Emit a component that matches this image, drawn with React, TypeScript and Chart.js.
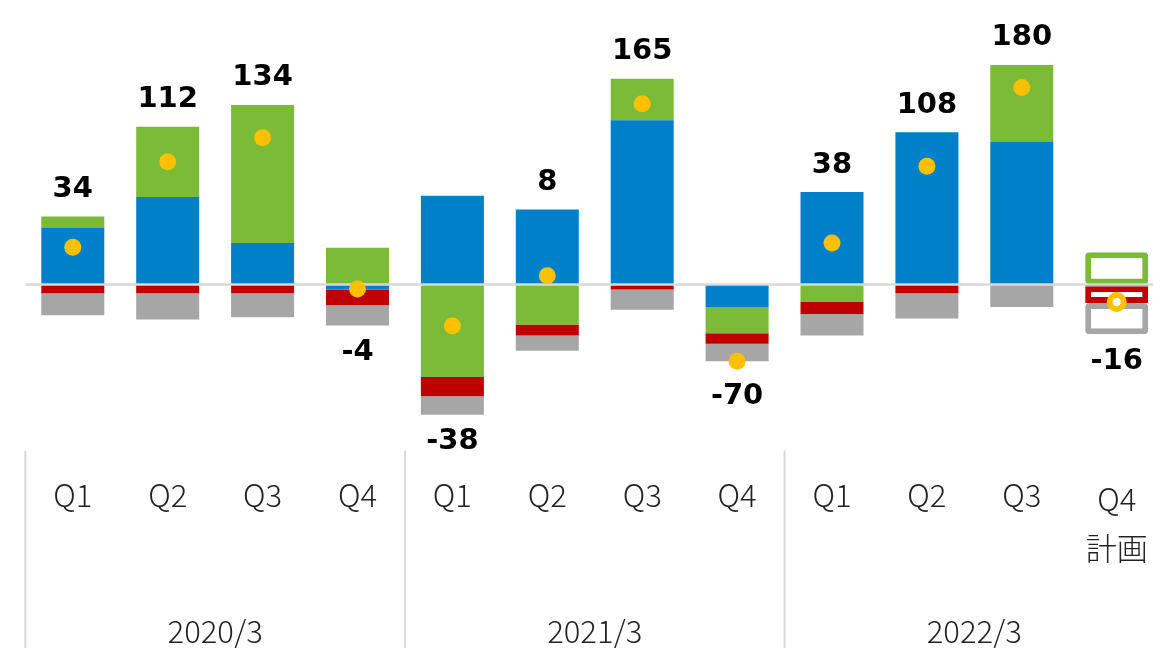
import React, { useEffect, useRef } from 'react';
import { Chart, registerables } from 'chart.js';

Chart.register(...registerables);

const categories = ['Q1', 'Q2', 'Q3', 'Q4', 'Q1', 'Q2', 'Q3', 'Q4', 'Q1', 'Q2', 'Q3', 'Q4\n計画'];
const fiscalYears = ['2020/3', '2021/3', '2022/3'];
const blueValues = [52, 80, 38, -4.5, 81, 68.5, 150, -21, 84.5, 139, 130.5, -1.5];
const greenValues = [10, 64, 126, 33.5, -84.5, -36.5, 38, -23.5, -15.5, 0, 70, 29.5];
const redValues = [-8, -8, -8, -14.5, -17.5, -10, -4.5, -9.5, -11.5, -8, 0, -15.5];
const grayValues = [-20, -24, -22, -18.5, -17, -14, -18.5, -16, -19.5, -23, -20.5, -28.5];
const totalValues = [34, 112, 134, -4, -38, 8, 165, -70, 38, 108, 180, -16];
const planIndex = 11;

const BLUE = '#0080C8';
const GREEN = '#7CBB38';
const RED = '#C00000';
const GRAY = '#A6A6A6';
const YELLOW = '#FFC000';
const LINE_GRAY = '#D9D9D9';

// the canvas is a little wider than the window: the last category is cut off at the right edge, as in the reference
const CANVAS_W = 1166;
const CANVAS_H = 648;
const VIEW_W = 1153;
const DOT_R = 8.5;

const labelFont = '"Noto Sans CJK JP", "Noto Sans", sans-serif';

const overlayPlugin = {
  id: 'overlay',
  beforeDatasetDraw(chart: any, args: any) {
    if (args.meta.type !== 'line') return;
    const ctx = chart.ctx;
    const y0 = chart.scales.y.getPixelForValue(0);
    ctx.save();
    ctx.strokeStyle = LINE_GRAY;
    ctx.lineWidth = 2.5;
    ctx.beginPath();
    ctx.moveTo(chart.chartArea.left, y0);
    ctx.lineTo(chart.width, y0);
    ctx.stroke();
    ctx.restore();
  },
  afterDatasetsDraw(chart: any) {
    const ctx = chart.ctx;
    const yScale = chart.scales.y;
    const xScale = chart.scales.x;
    ctx.save();
    ctx.fillStyle = '#000000';
    ctx.font = 'bold 29px "DejaVu Sans", sans-serif';
    ctx.textAlign = 'center';
    ctx.textBaseline = 'middle';
    totalValues.forEach((t, i) => {
      const segs = [blueValues[i], greenValues[i], redValues[i], grayValues[i]];
      const pos = segs.filter((v) => v > 0).reduce((a, b) => a + b, 0);
      const neg = segs.filter((v) => v < 0).reduce((a, b) => a + b, 0);
      const x = xScale.getPixelForValue(i);
      const dotY = yScale.getPixelForValue(t);
      if (t >= 0) {
        const top = Math.min(yScale.getPixelForValue(pos), dotY - DOT_R);
        ctx.fillText(String(t), x, top - 27);
      } else {
        const bottom = Math.max(yScale.getPixelForValue(neg), dotY + DOT_R);
        ctx.fillText(String(t), x, bottom + 27);
      }
    });
    ctx.restore();
  },
  afterDraw(chart: any) {
    const ctx = chart.ctx;
    const area = chart.chartArea;
    const xScale = chart.scales.x;
    const catW = (area.right - area.left) / categories.length;
    ctx.save();
    ctx.strokeStyle = LINE_GRAY;
    ctx.lineWidth = 2;
    for (let k = 0; k <= fiscalYears.length; k++) {
      const x = area.left + k * 4 * catW;
      ctx.beginPath();
      ctx.moveTo(x, area.bottom);
      ctx.lineTo(x, chart.height);
      ctx.stroke();
    }
    ctx.fillStyle = '#222222';
    ctx.textAlign = 'center';
    ctx.textBaseline = 'middle';
    ctx.font = `300 31px ${labelFont}`;
    categories.forEach((c, i) => {
      const x = xScale.getPixelForValue(i);
      const lines = c.split('\n');
      if (lines.length === 1) {
        ctx.fillText(lines[0], x, area.bottom + 45);
      } else {
        ctx.fillText(lines[0], x, area.bottom + 49);
        ctx.fillText(lines[1], x, area.bottom + 98);
      }
    });
    fiscalYears.forEach((yLabel, k) => {
      const x = area.left + (k * 4 + 2) * catW;
      ctx.fillText(yLabel, x, area.bottom + 181);
    });
    ctx.restore();
  },
};

function barDataset(label: string, data: number[], color: string) {
  return {
    type: 'bar' as const,
    label,
    data,
    stack: 'main',
    order: 1,
    backgroundColor: (c: any) => (c.dataIndex === planIndex ? '#FFFFFF' : color),
    borderColor: color,
    borderWidth: (c: any) => (c.dataIndex === planIndex ? 6 : 0),
    borderRadius: (c: any) => (c.dataIndex === planIndex ? 4 : 0),
    borderSkipped: false,
    barPercentage: 0.664,
    categoryPercentage: 1,
  };
}

export default function App() {
  const canvasRef = useRef<HTMLCanvasElement | null>(null);

  useEffect(() => {
    if (!canvasRef.current) return;
    const chart = new Chart(canvasRef.current, {
      type: 'bar',
      data: {
        labels: categories,
        datasets: [
          barDataset('blue', blueValues, BLUE),
          barDataset('green', greenValues, GREEN),
          barDataset('red', redValues, RED),
          barDataset('gray', grayValues, GRAY),
          {
            type: 'line' as const,
            label: 'total',
            data: totalValues,
            order: 0,
            showLine: false,
            clip: false,
            pointRadius: totalValues.map((_, i) => (i === planIndex ? 7 : DOT_R)),
            pointBackgroundColor: totalValues.map((_, i) => (i === planIndex ? '#FFFFFF' : YELLOW)),
            pointBorderColor: YELLOW,
            pointBorderWidth: totalValues.map((_, i) => (i === planIndex ? 6 : 0)),
          } as any,
        ],
      },
      options: {
        responsive: false,
        animation: false,
        devicePixelRatio: 1,
        layout: { autoPadding: false, padding: { left: 25.35, right: 1.85, top: 10.75, bottom: 197.5 } },
        plugins: { legend: { display: false }, tooltip: { enabled: false } },
        scales: {
          x: { display: false, stacked: true, grid: { display: false } },
          y: { display: false, stacked: true, min: -151.6, max: 250, grid: { display: false } },
        },
      },
      plugins: [overlayPlugin],
    } as any);
    return () => chart.destroy();
  }, []);

  return (
    <div
      style={{
        position: 'fixed',
        left: 0,
        top: 0,
        width: VIEW_W,
        height: CANVAS_H,
        overflow: 'hidden',
        background: '#FFFFFF',
      }}
    >
      <div style={{ width: CANVAS_W, height: CANVAS_H }}>
        <canvas
          ref={canvasRef}
          width={CANVAS_W}
          height={CANVAS_H}
          style={{ width: CANVAS_W, height: CANVAS_H, display: 'block' }}
        />
      </div>
    </div>
  );
}
